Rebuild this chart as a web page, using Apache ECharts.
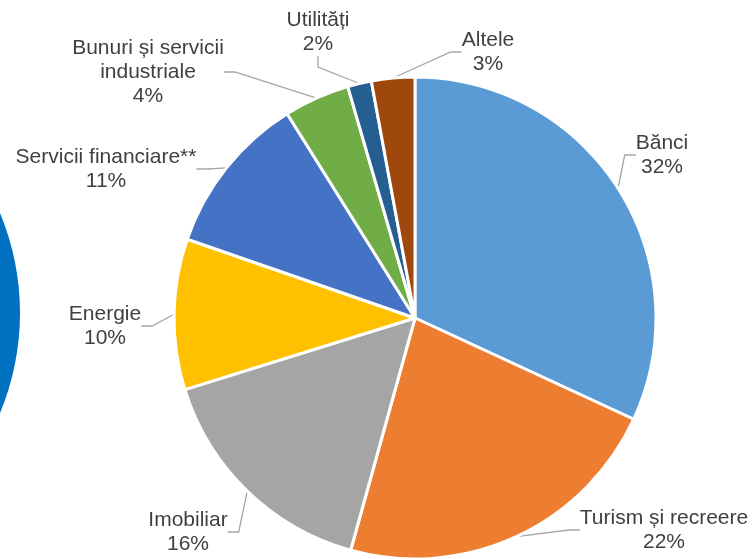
<!DOCTYPE html>
<html>
<head>
<meta charset="utf-8">
<script src="https://cdn.jsdelivr.net/npm/echarts@6/dist/echarts.min.js"></script>
<style>
  html, body { margin: 0; padding: 0; background: #fff; }
  #chart { width: 752px; height: 559px; }
</style>
</head>
<body>
<div id="chart"></div>
<script>
const sectors = ['Bănci', 'Turism și recreere', 'Imobiliar', 'Energie', 'Servicii financiare**', 'Bunuri și servicii\nindustriale', 'Utilități', 'Altele'];
const shares = [31.9, 22.4, 15.9, 10.1, 10.8, 4.4, 1.6, 2.9];
const sectorColors = ['#5B9BD5', '#ED7D31', '#A5A5A5', '#FFC000', '#4472C4', '#70AD47', '#255E91', '#9E480E'];

// label centres, picked to sit where the original puts them
const labelPos = [
  [662, 155], [664, 530], [188, 532], [105, 326],
  [106, 169], [148, 72], [318, 32], [488, 52]
];

const chart = echarts.init(document.getElementById('chart'));

// series box is widened to the left so the long labels are not truncated
const boxLeft = -150;

chart.setOption({
  animation: false,
  graphic: [{
    type: 'circle',
    shape: { cx: -240, cy: 313, r: 260 },
    style: { fill: '#0070C0' },
    z: -1
  }],
  series: [{
    type: 'pie',
    left: boxLeft,
    right: -100,
    top: 0,
    bottom: 0,
    center: [415 - boxLeft, 318],
    radius: 241,
    startAngle: 90,
    clockwise: true,
    percentPrecision: 0,
    itemStyle: { borderColor: '#fff', borderWidth: 3 },
    label: {
      show: true,
      position: 'outside',
      formatter: '{b}\n{d}%',
      fontFamily: 'Liberation Sans, Arial, sans-serif',
      fontSize: 21,
      lineHeight: 24,
      color: '#404040',
      align: 'center'
    },
    labelLine: {
      show: true,
      length: 10,
      length2: 11,
      lineStyle: { color: '#A6A6A6', width: 1.3 }
    },
    labelLayout: (params) => {
      const p = labelPos[params.dataIndex];
      return { x: p[0], y: p[1], align: 'center', verticalAlign: 'middle' };
    },
    data: sectors.map((name, i) => ({
      name: name,
      value: shares[i],
      itemStyle: { color: sectorColors[i] }
    }))
  }]
});
</script>
</body>
</html>
